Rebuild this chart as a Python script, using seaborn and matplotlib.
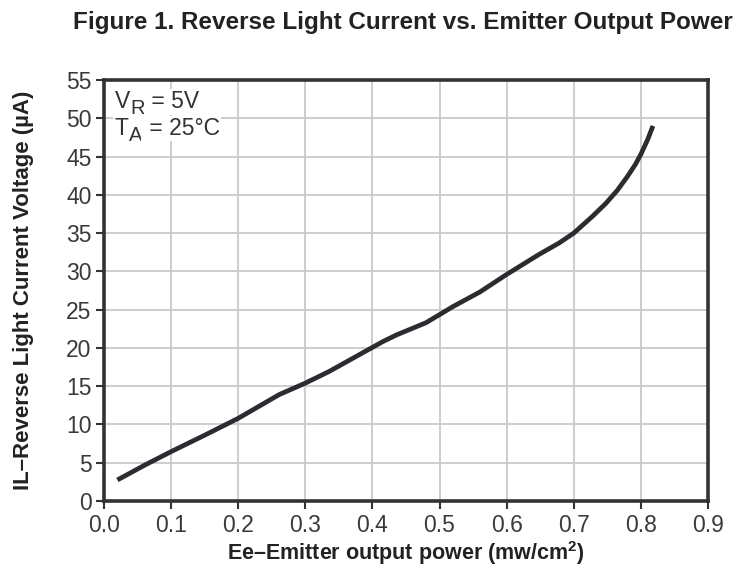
import matplotlib
matplotlib.use("Agg")
import matplotlib.pyplot as plt
import seaborn as sns
import pandas as pd

# Data
power = [0.02, 0.061, 0.10, 0.151, 0.20, 0.261, 0.30, 0.335, 0.40, 0.416, 0.436,
         0.48, 0.52, 0.56, 0.60, 0.648, 0.678, 0.70, 0.728, 0.748, 0.765, 0.78,
         0.792, 0.80, 0.81, 0.818]
current = [2.75, 4.7, 6.45, 8.64, 10.8, 13.9, 15.4, 16.9, 20.07, 20.85, 21.7,
           23.3, 25.4, 27.3, 29.6, 32.2, 33.7, 35.0, 37.2, 38.9, 40.6, 42.4,
           44.0, 45.3, 47.2, 49.0]
x_ticks = [0.0, 0.1, 0.2, 0.3, 0.4, 0.5, 0.6, 0.7, 0.8, 0.9]
y_ticks = [0, 5, 10, 15, 20, 25, 30, 35, 40, 45, 50, 55]

title = "Figure 1. Reverse Light Current vs. Emitter Output Power"
xlabel = "Ee\u2013Emitter output power (mw/cm$^\\mathregular{2}$)"
ylabel = "IL\u2013Reverse Light Current Voltage (\u00b5A)"
note_lines = [("V", "R", " = 5V"), ("T", "A", " = 25\u00b0C")]

df = pd.DataFrame({"power": power, "current": current})

sns.set_theme(style="whitegrid")
plt.rcParams["font.family"] = ["Liberation Sans", "DejaVu Sans"]
plt.rcParams["mathtext.fontset"] = "custom"
plt.rcParams["mathtext.rm"] = "Liberation Sans"
plt.rcParams["mathtext.bf"] = "Liberation Sans:bold"

W, H = 741, 572
fig = plt.figure(figsize=(W / 100, H / 100), dpi=100)
ax = fig.add_axes([104 / W, 1 - 501 / H, (708 - 104) / W, (501 - 80) / H])

sns.lineplot(data=df, x="power", y="current", ax=ax, color="#2b2b30",
             linewidth=3.4, solid_capstyle="butt", zorder=3)

ax.set_xlim(0, 0.9)
ax.set_ylim(0, 55)
ax.set_xticks(x_ticks)
ax.set_xticklabels([f"{t:.1f}" for t in x_ticks])
ax.set_yticks(y_ticks)
ax.set_yticklabels([str(t) for t in y_ticks])

ax.grid(True, color="#c9c9c9", linewidth=1.3)
for s in ax.spines.values():
    s.set_visible(True)
    s.set_color("#333333")
    s.set_linewidth(2.6)

ax.tick_params(axis="both", which="major", direction="out", length=6, width=1.5,
               color="#333333", labelcolor="#3a3a3a", labelsize=16.5, pad=3,
               bottom=True, left=True)

ax.set_xlabel(xlabel, fontsize=15.5, fontweight="bold", color="#222222")
ax.xaxis.set_label_coords(0.5, (501 - 553) / 421)
ax.xaxis.label.set_va("center")
ax.set_ylabel(ylabel, fontsize=16, fontweight="bold", color="#222222")
ax.yaxis.set_label_coords((24 - 104) / 604, 0.5)
ax.yaxis.label.set_va("center")

fig.text(403 / W, 1 - 22 / H, title, ha="center", va="center",
         fontsize=17.5, fontweight="bold", color="#222222")

# Conditions note: large subscripts, white background over the grid
box = dict(facecolor="white", edgecolor="none", pad=1.0)
base_y = [51.3, 47.8]
for (main, sub, rest), yb in zip(note_lines, base_y):
    t_main = ax.text(0.016, yb, main, ha="left", va="baseline", fontsize=16.5,
                     color="#333333", bbox=box, zorder=4)
    t_sub = ax.annotate(sub, xy=(1, yb), xycoords=(t_main, "data"),
                        xytext=(0.3, -4.0), textcoords="offset points",
                        ha="left", va="baseline", fontsize=14.5,
                        color="#333333", bbox=box, zorder=4)
    ax.annotate(rest, xy=(1, yb), xycoords=(t_sub, "data"), xytext=(0.3, 0),
                textcoords="offset points", ha="left", va="baseline",
                fontsize=16.5, color="#333333", bbox=box, zorder=4)

fig.savefig("out.png", dpi=100)
